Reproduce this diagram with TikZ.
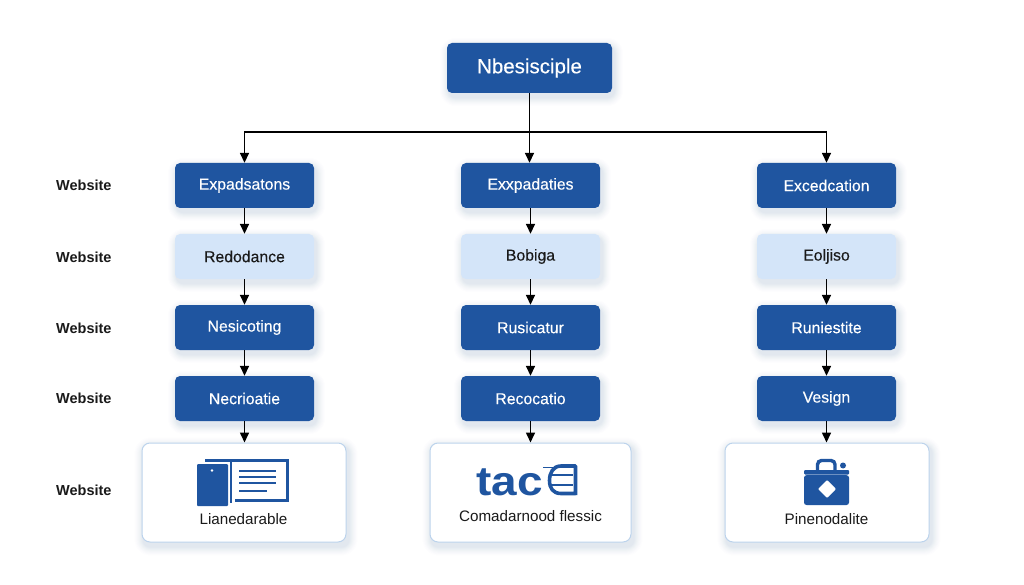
\documentclass[tikz,border=0pt]{standalone}
\usepackage{fontspec}
\setmainfont{Liberation Sans}
\newfontfamily\medfont[FakeBold=0.25]{Liberation Sans}
\usetikzlibrary{arrows.meta,backgrounds}
\definecolor{dk}{HTML}{1F55A0}
\definecolor{lt}{HTML}{D4E5F9}
\definecolor{edgeb}{HTML}{BCD3EC}
\definecolor{ink}{HTML}{1A1A1A}
\definecolor{shad}{HTML}{1F55A0}
\tikzset{
 x=1pt,y=-1pt,
 boxbase/.style={rounded corners=5pt,inner sep=0pt,minimum width=139pt,minimum height=45pt,font=\fontsize{15.8}{18}\medfont},
 darkbox/.style={boxbase,fill=dk,text=white},
 lightbox/.style={boxbase,fill=lt,text=ink},
 topbox/.style={boxbase,fill=dk,text=white,minimum width=165pt,minimum height=50pt,font=\fontsize{20.5}{24}\medfont},
 cardbox/.style={rounded corners=8pt,draw=edgeb,line width=1pt,fill=white,inner sep=0pt,minimum height=99pt},
 rowlabel/.style={text=ink,font=\fontsize{14.5}{17}\selectfont\bfseries,anchor=west,inner sep=0pt},
 captext/.style={text=ink,font=\fontsize{15.2}{18}\selectfont,inner sep=0pt},
 link/.style={draw=black,line width=1.6pt,-{Triangle[length=10pt,width=9pt]}},
}
\newcommand{\softshadow}[1]{%
 \foreach \g/\op/\r in {9/0.008/16,8/0.009/15,7/0.01/14,6/0.011/13,5/0.012/12,4/0.014/11,3/0.016/10,2/0.018/9,1/0.02/8}{%
  \fill[shad,opacity=\op,rounded corners=\r pt]
   ([xshift=-\g pt+2pt,yshift=\g pt-4pt]#1.north west) rectangle ([xshift=\g pt+2pt,yshift=-\g pt-4pt]#1.south east);
 }%
}
\begin{document}
\begin{tikzpicture}
\useasboundingbox (0,0) rectangle (1024,585);

\node[topbox] (top) at (529.5,68) {Nbesisciple};
\coordinate (hub) at (529.5,132);

\node[darkbox]  (a1) at (244.5,185.5) {Expadsatons};
\node[lightbox] (a2) at (244.5,256.5) {Redodance};
\node[darkbox]  (a3) at (244.5,327.5) {Nesicoting};
\node[darkbox]  (a4) at (244.5,398.5) {Necrioatie};
\node[cardbox,minimum width=204pt] (a5) at (244,492.5) {};

\node[darkbox]  (b1) at (530.5,185.5) {Exxpadaties};
\node[lightbox] (b2) at (530.5,256.5) {Bobiga};
\node[darkbox]  (b3) at (530.5,327.5) {Rusicatur};
\node[darkbox]  (b4) at (530.5,398.5) {Recocatio};
\node[cardbox,minimum width=201pt] (b5) at (530.5,492.5) {};

\node[darkbox]  (c1) at (826.5,185.5) {Excedcation};
\node[lightbox] (c2) at (826.5,256.5) {Eoljiso};
\node[darkbox]  (c3) at (826.5,327.5) {Runiestite};
\node[darkbox]  (c4) at (826.5,398.5) {Vesign};
\node[cardbox,minimum width=204pt] (c5) at (827,492.5) {};

\begin{scope}[on background layer]
 \fill[white] (0,0) rectangle (1024,585);
 \foreach \n in {top,a1,a2,a3,a4,a5,b1,b2,b3,b4,b5,c1,c2,c3,c4,c5}{\softshadow{\n}}
\end{scope}

\foreach \y/\n in {185.5/r1,257/r2,328/r3,398.5/r4,490.5/r5}
  \node[rowlabel] (\n) at (56,\y) {Website};

% connectors
\draw[link] (top.south) -- (top.south |- b1.north);
\draw[link] (hub) -| (a1.north);
\draw[link] (hub) -| (c1.north);
\foreach \c in {a,b,c}{
 \draw[link] (\c1) -- (\c2);
 \draw[link] (\c2) -- (\c3);
 \draw[link] (\c3) -- (\c4);
}
\draw[link] (a4.south) -- (a4.south |- a5.north);
\draw[link] (b4.south) -- (b4.south |- b5.north);
\draw[link] (c4.south) -- (c4.south |- c5.north);

% captions
\node[captext] (ca) at (243.5,519) {Lianedarable};
\node[captext] (cb) at (530.5,516.5) {Comadarnood flessic};
\node[captext] (cc) at (826.5,519) {Pinenodalite};

% icon 1
\draw[dk,line width=3pt] (205,460.5) -- (287.5,460.5) -- (287.5,500.5) -- (235,500.5);
\draw[dk,line width=2.5pt] (231,460) -- (231,503);
\fill[white] (226,462.5) rectangle (229.5,506);
\fill[dk,rounded corners=1pt] (197,464) rectangle (228,506);
\fill[white] (212,470.5) circle (1.3);
\draw[dk,line width=2.4pt] (239,471) -- (276,471) (239,477) -- (276,477) (239,483) -- (276,483) (239,491) -- (267,491);

% icon 2
\node[text=dk,font=\fontsize{41}{44}\selectfont\bfseries,anchor=base west,inner sep=0pt] (tac) at (476,495) {\scalebox{1.12}[1]{tac}};
\draw[dk,line width=3.6pt,line join=round]
  (575.5,495) -- (575.5,466) -- (561,466) .. controls (553,466) and (549.5,473) .. (549.5,480.5)
  .. controls (549.5,488) and (553,493.5) .. (561,493.5) -- (575.5,493.5);
\draw[dk,line width=2.4pt] (551,475) -- (573,475) (551,485) -- (573,485);
\draw[dk,line width=1pt] (543,467.5) -- (553,467.5);

% icon 3
\draw[dk,line width=3.4pt,rounded corners=4pt] (817.5,471) -- (817.5,460.5) -- (835,460.5) -- (835,471);
\fill[dk] (843,465.5) circle (3);
\fill[dk,rounded corners=1pt] (804,470) rectangle (849,474.5);
\fill[dk,rounded corners=2.5pt] (804,475.2) rectangle (849,505);
\fill[white,rounded corners=1pt] (827,480) -- (836,489) -- (827,498) -- (818,489) -- cycle;
\end{tikzpicture}
\end{document}
